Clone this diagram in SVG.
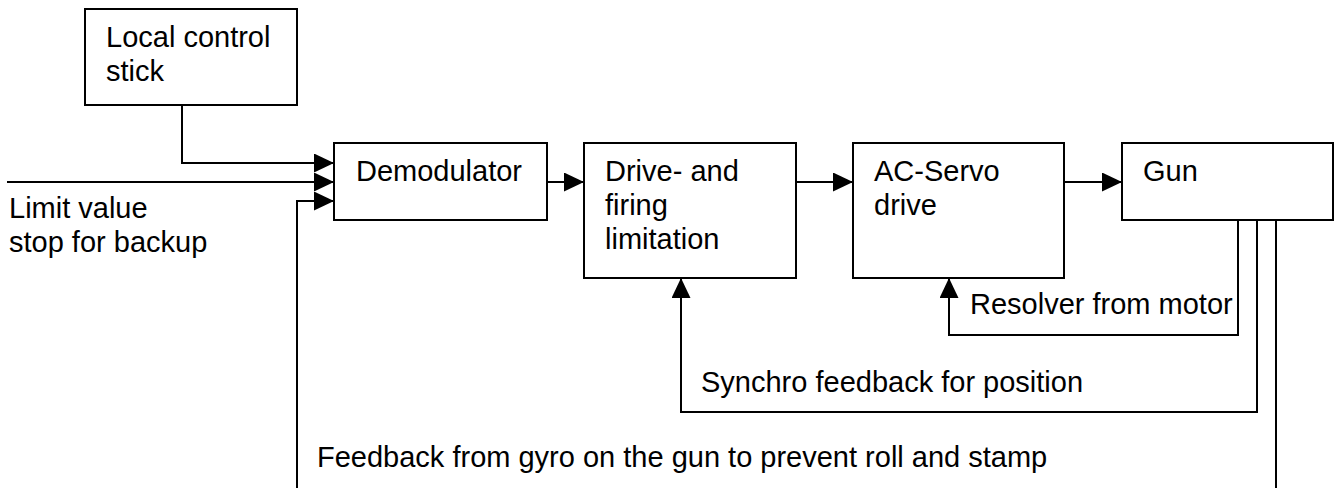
<svg xmlns="http://www.w3.org/2000/svg" width="1342" height="488" viewBox="0 0 1342 488">
  <style>
    .box { fill: #ffffff; stroke: #000000; stroke-width: 2; }
    .wire { fill: none; stroke: #000000; stroke-width: 2; }
    .lbl { font-family: "Liberation Sans", Arial, sans-serif; font-size: 29px; fill: #000000; }
  </style>
  <defs>
    <marker id="arrow" markerUnits="userSpaceOnUse" markerWidth="20" markerHeight="20" refX="20" refY="9.5" orient="auto">
      <path d="M0,0 L20,9.5 L0,19 Z" fill="#000000"/>
    </marker>
  </defs>

  <rect width="1342" height="488" fill="#ffffff"/>

  <!-- connectors -->
  <g id="connectors">
    <polyline class="wire" points="182,105 182,163 334,163" marker-end="url(#arrow)"/>
    <line class="wire" x1="7" y1="182" x2="334" y2="182" marker-end="url(#arrow)"/>
    <polyline class="wire" points="1276,220 1276,490" />
    <polyline class="wire" points="297,490 297,201 334,201" marker-end="url(#arrow)"/>
    <line class="wire" x1="547" y1="182" x2="584" y2="182" marker-end="url(#arrow)"/>
    <line class="wire" x1="796" y1="182" x2="853" y2="182" marker-end="url(#arrow)"/>
    <line class="wire" x1="1064" y1="182" x2="1122" y2="182" marker-end="url(#arrow)"/>
    <polyline class="wire" points="1238,220 1238,335 949,335 949,278" marker-end="url(#arrow)"/>
    <polyline class="wire" points="1257,220 1257,412 681,412 681,278" marker-end="url(#arrow)"/>
  </g>

  <!-- connector labels -->
  <g id="labels">
    <text class="lbl" x="9" y="218">Limit value</text>
    <text class="lbl" x="9" y="252">stop for backup</text>
    <text class="lbl" x="970" y="314">Resolver from motor</text>
    <text class="lbl" x="701" y="392">Synchro feedback for position</text>
    <text class="lbl" x="317" y="467">Feedback from gyro on the gun to prevent roll and stamp</text>
  </g>

  <g id="local-control-stick">
    <rect class="box" x="85" y="9" width="212" height="96"/>
    <text class="lbl" x="106" y="47">Local control</text>
    <text class="lbl" x="106" y="81">stick</text>
  </g>

  <g id="demodulator">
    <rect class="box" x="334" y="143" width="213" height="77"/>
    <text class="lbl" x="356" y="181">Demodulator</text>
  </g>

  <g id="drive-firing-limitation">
    <rect class="box" x="584" y="143" width="212" height="135"/>
    <text class="lbl" x="605" y="181">Drive- and</text>
    <text class="lbl" x="605" y="215">firing</text>
    <text class="lbl" x="605" y="249">limitation</text>
  </g>

  <g id="ac-servo-drive">
    <rect class="box" x="853" y="143" width="211" height="135"/>
    <text class="lbl" x="874" y="181">AC-Servo</text>
    <text class="lbl" x="874" y="215">drive</text>
  </g>

  <g id="gun">
    <rect class="box" x="1122" y="143" width="211" height="77"/>
    <text class="lbl" x="1143" y="181">Gun</text>
  </g>
</svg>
